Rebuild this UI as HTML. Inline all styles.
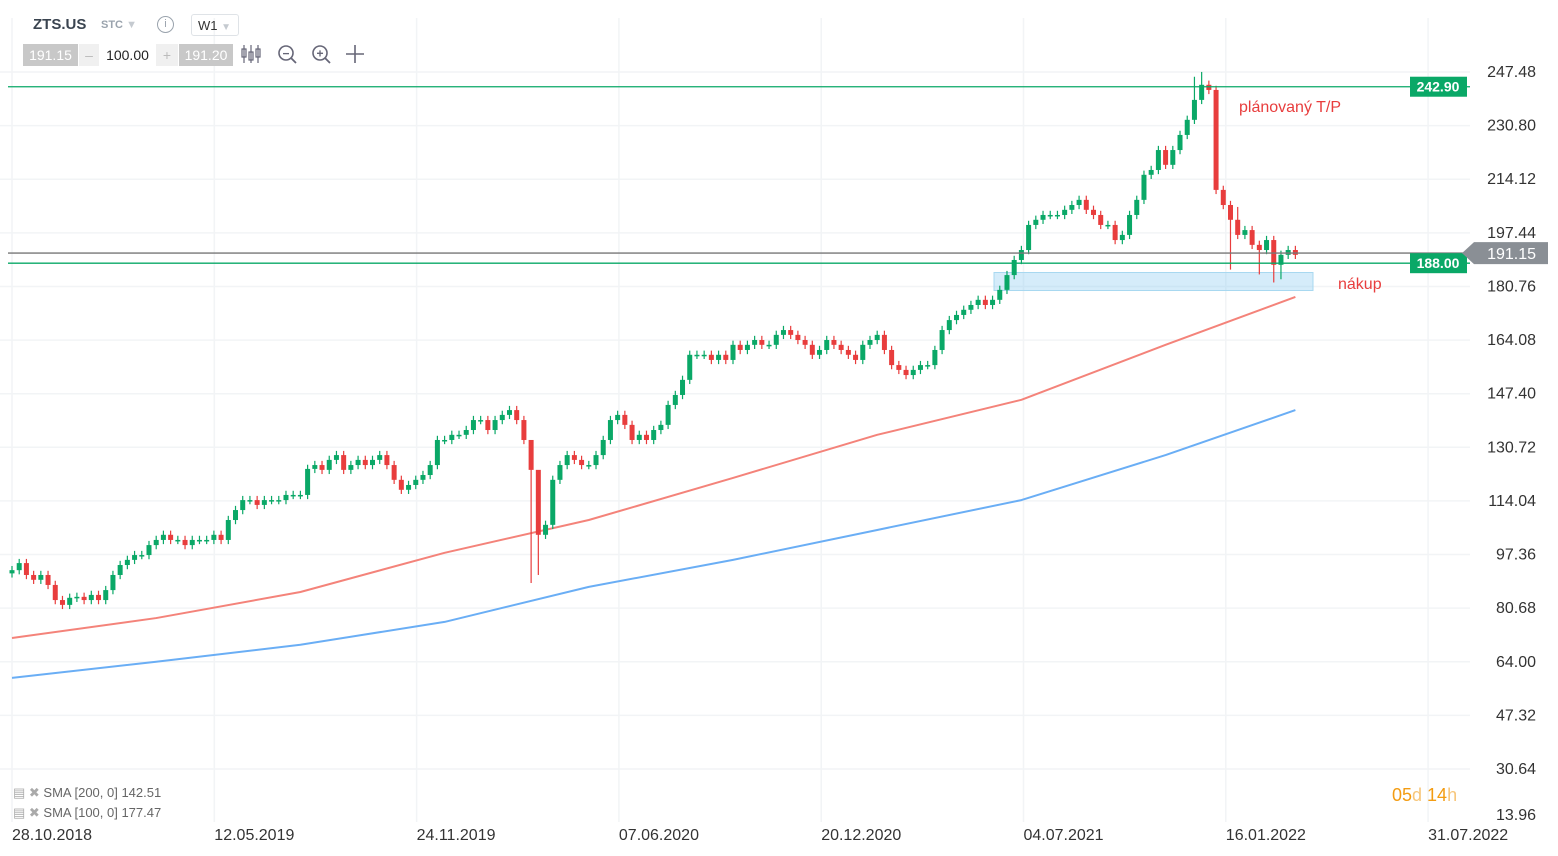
<!DOCTYPE html>
<html><head><meta charset="utf-8">
<style>
body{margin:0;background:#fff;font-family:"Liberation Sans",sans-serif;}
#wrap{position:relative;width:1558px;height:856px;overflow:hidden;}
svg{position:absolute;left:0;top:0;}
.tb{position:absolute;font-size:14px;}
</style></head><body>
<div id="wrap">
<svg id="chart" width="1558" height="856"></svg>
<div class="tb" style="left:33px;top:16px;font-weight:bold;font-size:15px;color:#3a4450">ZTS.US</div>
<div class="tb" style="left:101px;top:19px;font-size:11px;font-weight:bold;color:#9aa3ad">STC <span style="color:#c5cad0">▼</span></div>
<div class="tb" style="left:157px;top:16px;width:15px;height:15px;border:1.5px solid #9aa3ad;border-radius:50%;font-size:11px;text-align:center;line-height:15px;color:#9aa3ad">i</div>
<div class="tb" style="left:191px;top:14px;width:48px;height:22px;border:1px solid #dfe3e7;border-radius:3px;font-size:13px;line-height:22px;color:#333;padding-left:6px;box-sizing:border-box">W1 <span style="color:#c5cad0;font-size:10px">▼</span></div>
<div class="tb" style="left:23px;top:44px;width:55px;height:22px;background:#c8c8c8;color:#fff;text-align:center;line-height:22px">191.15</div>
<div class="tb" style="left:79px;top:44px;width:20px;height:22px;background:#f0f0f0;color:#bbb;text-align:center;line-height:22px">–</div>
<div class="tb" style="left:100px;top:44px;width:55px;height:22px;color:#222;text-align:center;line-height:22px">100.00</div>
<div class="tb" style="left:156px;top:44px;width:22px;height:22px;background:#f0f0f0;color:#bbb;text-align:center;line-height:22px">+</div>
<div class="tb" style="left:179px;top:44px;width:54px;height:22px;background:#c8c8c8;color:#fff;text-align:center;line-height:22px">191.20</div>
<div class="tb" style="left:13px;top:785px;font-size:13px;color:#666"><span style="color:#aaa">▤ ✖</span> SMA [200, 0] 142.51</div>
<div class="tb" style="left:13px;top:805px;font-size:13px;color:#666"><span style="color:#aaa">▤ ✖</span> SMA [100, 0] 177.47</div>
<div class="tb" style="left:1392px;top:785px;font-size:18px;color:#f39c12">05<span style="color:#f7c67a">d</span> 14<span style="color:#f7c67a">h</span></div>
</div>
<script>
const yTicks=[247.48,230.80,214.12,197.44,180.76,164.08,147.40,130.72,114.04,97.36,80.68,64.00,47.32,30.64,13.96];
const xLabels=["28.10.2018","12.05.2019","24.11.2019","07.06.2020","20.12.2020","04.07.2021","16.01.2022","31.07.2022"];
const closes=[92.5,94.7,91.0,89.5,91.0,87.9,83.2,81.7,83.9,84.2,83.2,84.8,83.2,86.3,91.0,94.1,
95.7,97.2,97.2,100.3,101.9,103.5,101.9,101.9,100.3,101.9,101.9,101.9,103.5,101.9,108.1,
111.2,114.3,114.3,112.8,114.3,114.3,114.3,115.9,115.9,115.9,
124.0,125.2,123.7,126.8,128.3,123.7,125.2,126.8,125.2,126.8,128.3,125.2,120.6,117.5,119.0,
120.6,122.1,125.2,133.0,133.0,134.6,134.6,136.1,139.2,139.2,136.1,139.2,140.8,142.3,139.2,
133.0,123.7,103.5,106.6,120.6,125.2,128.3,126.8,125.2,125.2,
128.3,133.0,139.2,140.8,137.7,133.0,134.6,133.0,136.1,137.7,143.9,147.0,151.7,159.5,159.5,
159.5,157.9,159.5,157.9,162.6,161.0,162.6,164.1,162.6,162.6,165.7,167.2,165.7,164.1,162.6,
159.5,161.0,164.1,162.6,161.0,159.5,157.9,162.6,164.1,165.7,161.0,156.3,154.8,153.2,154.8,
156.3,156.3,161.0,167.2,170.3,171.9,173.5,175.0,176.6,175.0,176.6,179.7,184.3,189.0,192.1,
199.9,201.5,203.0,203.0,203.0,204.6,206.1,207.7,204.6,203.0,199.9,199.9,195.2,196.8,203.0,
207.7,215.5,217.0,223.2,218.6,223.2,227.9,232.6,238.8,243.5,
241.9,210.8,206.1,201.5,196.8,198.3,193.7,192.1,195.2,187.5,190.6,192.1,190.6];
const sma100=[71.4,77.6,85.7,97.9,108.1,121.2,134.6,145.5,162.6,177.5];
const sma200=[59.0,64.0,69.3,76.4,87.3,95.7,105.0,114.3,128.3,142.3];
const smaWeeks=[0,20,40,60,80,100,120,140,160,178];
const extremeLows={72:88.5,73:91.0,169:186,173:184.5,175:182,176:183};
const extremeHighs={72:126,73:108,164:246,165:247.5,170:205.5};
const levelTP=242.90, levelBuy=188.00, lastPrice=191.15;

const svg=document.getElementById('chart');const NS='http://www.w3.org/2000/svg';
function yS(p){return 72+(247.48-p)*(697/216.84);}
function xS(i){return 12+i*7.21;}
function mk(t,a,name,inter){const e=document.createElementNS(NS,t);for(const k in a)e.setAttribute(k,a[k]);


svg.appendChild(e);return e;}
yTicks.forEach((t,i)=>{const y=yS(t);if(i<14)mk('line',{x1:0,x2:1470,y1:y,y2:y,stroke:'#f2f4f6','stroke-width':1.5},'h-gridline');
const ty=i==14?820:y+5;
const tx=mk('text',{x:1536,y:ty,'text-anchor':'end','font-size':16,fill:'#333','font-family':'Liberation Sans'},'y-tick-label');tx.textContent=t.toFixed(2);});
xLabels.forEach((l,i)=>{const x=12+i*202.3;mk('line',{x1:x,x2:x,y1:18,y2:822,stroke:'#f2f4f6','stroke-width':1.5},'v-gridline');
const tx=mk('text',{x:x,y:840,'font-size':16,fill:'#333','font-family':'Liberation Sans'},'x-tick-label');tx.textContent=l;});
mk('rect',{x:994,y:yS(185.1),width:319,height:yS(179.5)-yS(185.1),fill:'rgba(135,200,240,0.35)',stroke:'#a8d8f0'},'buy-zone',true);
function smaPath(arr,col,name){mk('polyline',{points:arr.map((v,i)=>xS(smaWeeks[i])+','+yS(v)).join(' '),fill:'none',stroke:col,'stroke-width':2,'stroke-linejoin':'round'},name);}
smaPath(sma100,'#f4837a','sma100-line');smaPath(sma200,'#6aaef5','sma200-line');
closes.forEach((c,i)=>{const o=i?closes[i-1]:c-1;const up=c>=o;const col=up?'#0aa867':'#e83d3d';
const hi=extremeHighs[i]!==undefined?extremeHighs[i]:Math.max(o,c)+1.3;const lo=extremeLows[i]!==undefined?extremeLows[i]:Math.min(o,c)-1.3;
const x=xS(i);mk('line',{x1:x,x2:x,y1:yS(hi),y2:yS(lo),stroke:col,'stroke-width':1.2},'candle-wick');
const yt=yS(Math.max(o,c)),yb=yS(Math.min(o,c));mk('rect',{x:x-2.5,y:yt,width:5,height:Math.max(1.5,yb-yt),fill:col},'candle-body',true);});
[[levelTP,'#0aa867','tp-line'],[lastPrice,'#777','last-price-line'],[levelBuy,'#0aa867','buy-line']].forEach(([v,c,n])=>{mk('line',{x1:8,x2:1470,y1:yS(v),y2:yS(v),stroke:c,'stroke-width':1.3},n,true);});
function tag(v,fill,n){const y=yS(v);mk('rect',{x:1410,y:y-10,width:57,height:20,fill:fill},n);
const t=mk('text',{x:1438,y:y+5,'text-anchor':'middle','font-size':14,'font-weight':'bold',fill:'#fff','font-family':'Liberation Sans'},n+'-text');t.textContent=v.toFixed(2);}
tag(levelTP,'#0aa867','tp-tag');tag(levelBuy,'#0aa867','buy-tag');
const ly=yS(lastPrice);mk('polygon',{points:`1462,${ly} 1474,${ly-11} 1548,${ly-11} 1548,${ly+11} 1474,${ly+11}`,fill:'#8a8f95'},'last-price-tag');
const lt=mk('text',{x:1536,y:ly+6,'text-anchor':'end','font-size':16,fill:'#fff','font-family':'Liberation Sans'},'last-price-text');lt.textContent=lastPrice.toFixed(2);
const a1=mk('text',{x:1239,y:112,'font-size':16,fill:'#e83d3d','font-family':'Liberation Sans'},'tp-annotation');a1.textContent='plánovaný T/P';
const a2=mk('text',{x:1338,y:289,'font-size':16,fill:'#e83d3d','font-family':'Liberation Sans'},'buy-annotation');a2.textContent='nákup';
// chart-type icon (3 mini candles)
[244,251,258].forEach((x,k)=>{mk('line',{x1:x,x2:x,y1:45,y2:63,stroke:'#667','stroke-width':1.2},'chart-type-icon-wick');mk('rect',{x:x-2,y:49+k%2*3,width:4,height:8,fill:'none',stroke:'#667','stroke-width':1.2},'chart-type-button',true);});
[[286,'−','zoom-out-button'],[320,'+','zoom-in-button']].forEach(([x,s,n])=>{mk('circle',{cx:x,cy:53,r:7,fill:'none',stroke:'#667','stroke-width':1.6},n,true);mk('line',{x1:x+5,y1:58,x2:x+10,y2:63,stroke:'#667','stroke-width':1.8},n+'-handle');
const t=mk('text',{x:x,y:57.5,'text-anchor':'middle','font-size':12,'font-weight':'bold',fill:'#667'},n+'-glyph');t.textContent=s;});
mk('path',{d:'M355 45 V63 M346 54 H364',stroke:'#667','stroke-width':1.6},'pan-button',true);
</script>
</body></html>
